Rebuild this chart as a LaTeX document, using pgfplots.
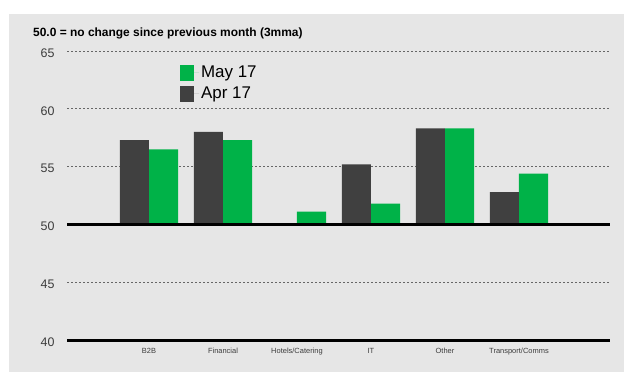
\documentclass[border=0pt]{standalone}
\usepackage{pgfplots}
\pgfplotsset{compat=1.18}
\usepackage{fontspec}
\setmainfont{Liberation Sans}
\definecolor{barGreen}{RGB}{0,178,72}
\definecolor{barDark}{RGB}{64,64,64}
\definecolor{panel}{RGB}{230,230,230}
\definecolor{tickGrey}{RGB}{60,60,60}
\begin{document}
\begin{tikzpicture}[x=1bp,y=1bp]
\fill[white] (0,0) rectangle (630,378);
\fill[panel] (9,6) rectangle (624,364);
\node[anchor=west,font=\bfseries\fontsize{12}{14}\selectfont,inner sep=0pt] at (33,345) {50.0 = no change since previous month (3mma)};
\begin{axis}[
  at={(67bp,38bp)}, anchor=south west,
  scale only axis, width=543bp, height=289bp,
  xmin=-1.108, xmax=6.23,
  ymin=-10, ymax=15,
  clip=false,
  axis line style={draw=none},
  major tick length=0pt,
  xtick={0,1,2,3,4,5},
  xticklabels={B2B,Financial,Hotels/Catering,IT,Other,Transport/Comms},
  xticklabel style={font=\fontsize{7.5}{9}\selectfont, text=tickGrey, yshift=-5bp},
  ytick={-10,-5,0,5,10,15},
  yticklabels={40,45,50,55,60,65},
  yticklabel style={font=\fontsize{12.5}{14}\selectfont, text=tickGrey, xshift=-9bp, yshift=-2bp},
  ymajorgrids,
  grid style={dash pattern=on 2bp off 2bp, gray!80!black, line width=0.7bp},
  legend style={at={(0.208,0.955)}, anchor=north west, draw=none, fill=none,
    font=\fontsize{17}{19}\selectfont, row sep=4bp, inner sep=0bp},
  legend cell align=left,
  legend image code/.code={\fill[#1,draw=none] (0bp,-8bp) rectangle (14bp,8bp); \path (0bp,0bp) -- (19bp,0bp);},
]
\addplot[ybar, bar width=0.392, bar shift=0.196, fill=barGreen, draw=none]
  table[x=x, y expr=\thisrow{v}-50] {
  x v
  0 56.5
  1 57.3
  2 51.1
  3 51.8
  4 58.3
  5 54.4
};
\addlegendentry{May 17}
\addplot[ybar, bar width=0.392, bar shift=-0.196, fill=barDark, draw=none]
  table[x=x, y expr=\thisrow{v}-50] {
  x v
  0 57.3
  1 58.0
  2 49.9
  3 55.2
  4 58.3
  5 52.8
};
\addlegendentry{Apr 17}
\draw[black, line width=2.5bp] (axis cs:-1.108,0) -- (axis cs:6.23,0);
\draw[black, line width=3bp] (axis cs:-1.108,-10) -- (axis cs:6.23,-10);
\end{axis}
\end{tikzpicture}
\end{document}
